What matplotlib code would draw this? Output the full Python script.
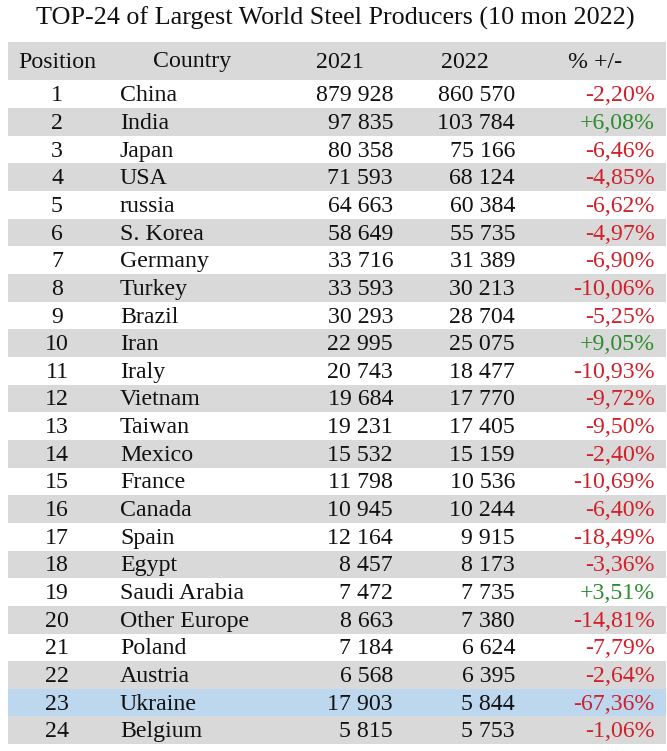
import matplotlib
matplotlib.use("Agg")
import matplotlib.pyplot as plt
from matplotlib.patches import Rectangle

positions = list(range(1, 25))
countries = ["China","India","Japan","USA","russia","S. Korea","Germany","Turkey","Brazil","Iran",
             "Iraly","Vietnam","Taiwan","Mexico","France","Canada","Spain","Egypt","Saudi Arabia",
             "Other Europe","Poland","Austria","Ukraine","Belgium"]
v2021 = ["879 928","97 835","80 358","71 593","64 663","58 649","33 716","33 593","30 293","22 995",
         "20 743","19 684","19 231","15 532","11 798","10 945","12 164","8 457","7 472","8 663",
         "7 184","6 568","17 903","5 815"]
v2022 = ["860 570","103 784","75 166","68 124","60 384","55 735","31 389","30 213","28 704","25 075",
         "18 477","17 770","17 405","15 159","10 536","10 244","9 915","8 173","7 735","7 380",
         "6 624","6 395","5 844","5 753"]
pct = ["-2,20%","+6,08%","-6,46%","-4,85%","-6,62%","-4,97%","-6,90%","-10,06%","-5,25%","+9,05%",
       "-10,93%","-9,72%","-9,50%","-2,40%","-10,69%","-6,40%","-18,49%","-3,36%","+3,51%","-14,81%",
       "-7,79%","-2,64%","-67,36%","-1,06%"]
headers = ["Position", "Country", "2021", "2022", "% +/-"]
title = "TOP-24 of Largest World Steel Producers (10 mon 2022)"

plt.rcParams['font.family'] = ['Liberation Serif', 'DejaVu Serif']
fig = plt.figure(figsize=(6.67, 7.51), dpi=100)
ax = fig.add_axes([0, 0, 1, 1])
ax.set_xlim(0, 667); ax.set_ylim(751, 0); ax.axis('off')

FS = 17.2
ax.text(335, 18, title, ha='center', va='center', fontsize=18.8, color='#111111')
ax.add_patch(Rectangle((8, 42), 658, 38, color='#d9d9d9', lw=0))
hx = [57, 192, 340, 465, 595]
for x, h in zip(hx, headers):
    ax.text(x, 62, h, ha='center', va='center', fontsize=FS, color='#111111')

top = 80.5
pitch = 27.65
for i in range(24):
    yc = top + pitch * (i + 0.5) + 1.5
    if countries[i] == "Ukraine":
        ax.add_patch(Rectangle((8, top + pitch * i), 658, pitch, color='#bdd7ee', lw=0))
    elif i % 2 == 1:
        ax.add_patch(Rectangle((8, top + pitch * i), 658, pitch, color='#d9d9d9', lw=0))
    ax.text(57, yc, str(positions[i]), ha='center', va='center', fontsize=FS, color='#111111')
    ax.text(120, yc, countries[i], ha='left', va='center', fontsize=FS, color='#111111')
    ax.text(393, yc, v2021[i], ha='right', va='center', fontsize=FS, color='#111111')
    ax.text(515, yc, v2022[i], ha='right', va='center', fontsize=FS, color='#111111')
    c = '#2e8b2e' if pct[i].startswith('+') else '#d0202a'
    ax.text(655, yc, pct[i], ha='right', va='center', fontsize=FS, color=c)

fig.savefig("out.png", dpi=100)
